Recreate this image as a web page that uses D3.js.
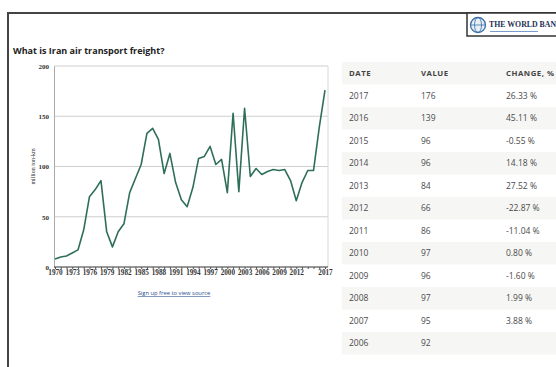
<!DOCTYPE html>
<html>
<head>
<meta charset="utf-8">
<script src="https://cdn.jsdelivr.net/npm/d3@7"></script>
<style>
  html, body { margin: 0; padding: 0; background: #fff; }
  svg { display: block; }
</style>
</head>
<body>
<svg id="chart" width="556" height="367"></svg>
<script>
// ---- data ----
const years = d3.range(1970, 2018);
const values = [8, 10, 11, 14, 17, 37, 70, 77, 86, 35,
                20, 35, 43, 74, 88, 102, 133, 138, 127, 93,
                113, 84, 67, 60, 79, 108, 110, 120, 102, 107,
                74, 153, 75, 158, 90, 98, 92, 95, 97, 96,
                97, 86, 66, 84, 96, 96, 139, 176];
const xTickLabels = [1970, 1973, 1976, 1979, 1982, 1985, 1988, 1991, 1994, 1997, 2000, 2003, 2006, 2009, 2012, 2017];
const yTicks = [0, 50, 100, 150, 200];

const tableHeaders = ["DATE", "VALUE", "CHANGE, %"];
const tableYears = [2017, 2016, 2015, 2014, 2013, 2012, 2011, 2010, 2009, 2008, 2007, 2006];
const tableValues = [176, 139, 96, 96, 84, 66, 86, 97, 96, 97, 95, 92];
const tableChanges = ["26.33 %", "45.11 %", "-0.55 %", "14.18 %", "27.52 %", "-22.87 %", "-11.04 %", "0.80 %", "-1.60 %", "1.99 %", "3.88 %", ""];

const svg = d3.select("#chart");

// ---- frame ----
svg.append("line").attr("x1", 8).attr("x2", 8).attr("y1", 12).attr("y2", 367)
  .attr("stroke", "#444").attr("stroke-width", 2);
svg.append("line").attr("x1", 7).attr("x2", 556).attr("y1", 13).attr("y2", 13)
  .attr("stroke", "#444").attr("stroke-width", 2);

// ---- logo ----
const logo = svg.append("g");
logo.append("rect").attr("x", 467).attr("y", 13).attr("width", 95).attr("height", 23)
  .attr("fill", "#fff").attr("stroke", "#333").attr("stroke-width", 1.5);
logo.append("circle").attr("cx", 478).attr("cy", 25).attr("r", 7.5)
  .attr("fill", "#e8eef6").attr("stroke", "#3a6fa8").attr("stroke-width", 1.3);
logo.append("ellipse").attr("cx", 478).attr("cy", 25).attr("rx", 3.5).attr("ry", 7.5)
  .attr("fill", "none").attr("stroke", "#3a6fa8").attr("stroke-width", 0.8);
logo.append("line").attr("x1", 470.5).attr("x2", 485.5).attr("y1", 25).attr("y2", 25)
  .attr("stroke", "#3a6fa8").attr("stroke-width", 0.8);
logo.append("text").attr("x", 489).attr("y", 27).text("THE WORLD BAN")
  .attr("font-family", "'Liberation Serif', serif").attr("font-weight", "bold")
  .attr("font-size", 7.8).attr("fill", "#1f2f55");
logo.append("line").attr("x1", 490).attr("x2", 538).attr("y1", 31.5).attr("y2", 31.5)
  .attr("stroke", "#7a9cc8").attr("stroke-width", 1.2);

// ---- title ----
svg.append("text").attr("x", 13).attr("y", 54)
  .text("What is Iran air transport freight?")
  .attr("font-family", "'Open Sans', sans-serif").attr("font-weight", "bold")
  .attr("font-size", 9).attr("fill", "#222");

// ---- chart ----
const x = d3.scaleLinear().domain([1970, 2017]).range([55, 325]);
const y = d3.scaleLinear().domain([0, 200]).range([267, 66]);
const plotL = 54, plotR = 328;

const g = svg.append("g");
g.selectAll(".grid").data(yTicks.filter(d => d > 0)).join("line")
  .attr("x1", plotL).attr("x2", plotR)
  .attr("y1", d => y(d)).attr("y2", d => y(d))
  .attr("stroke", "#cfcfcf").attr("stroke-width", 1);
g.append("line").attr("x1", plotR).attr("x2", plotR).attr("y1", y(200)).attr("y2", y(0))
  .attr("stroke", "#d8d8d8");

const yAxis = g.append("g").attr("transform", `translate(${plotL},0)`)
  .call(d3.axisLeft(y).tickValues(yTicks).tickSize(0).tickPadding(5));
yAxis.select(".domain").attr("stroke", "#aaa");
yAxis.selectAll("text").attr("font-family", "'Liberation Serif', serif").attr("font-weight", "bold")
  .attr("font-size", 7).attr("fill", "#333");

const labelSet = new Set(xTickLabels);
const xAxis = g.append("g").attr("transform", `translate(0,${y(0)})`)
  .call(d3.axisBottom(x).tickValues(years).tickSize(2).tickPadding(1)
    .tickFormat(d => labelSet.has(d) ? String(d) : ""));
xAxis.select(".domain").attr("stroke", "#333").attr("d", `M${plotL},0H${plotR}`);
xAxis.selectAll("line").attr("stroke", "#555");
xAxis.selectAll("text").attr("font-family", "'Liberation Serif', serif").attr("font-weight", "bold")
  .attr("font-size", 7.2).attr("fill", "#333");

svg.append("text").attr("transform", `translate(35,${y(100)}) rotate(-90)`)
  .attr("text-anchor", "middle").text("million ton-km")
  .attr("font-family", "'Liberation Serif', serif").attr("font-size", 6).attr("fill", "#333");

const line = d3.line().x((d, i) => x(years[i])).y(d => y(d));
g.append("path").datum(values).attr("d", line)
  .attr("fill", "none").attr("stroke", "#2f6f58").attr("stroke-width", 1.6)
  .attr("stroke-linejoin", "round");

svg.append("text").attr("x", 174).attr("y", 295).attr("text-anchor", "middle")
  .text("Sign up free to view source")
  .attr("font-family", "'Open Sans', sans-serif").attr("font-size", 5.8)
  .attr("fill", "#2a4d8f").attr("text-decoration", "underline");

// ---- table ----
const colX = [349, 421, 506];
const rowH = 22.5;
const headY = 62;
const tbl = svg.append("g");
const rows = [tableHeaders].concat(tableYears.map((yr, i) => [String(yr), String(tableValues[i]), tableChanges[i]]));
rows.forEach((r, i) => {
  const top = headY + i * rowH;
  if (i % 2 === 0) {
    tbl.append("rect").attr("x", 342).attr("y", top).attr("width", 214).attr("height", rowH)
      .attr("fill", "#f6f6f4");
  }
  r.forEach((t, j) => {
    tbl.append("text").attr("x", colX[j]).attr("y", top + rowH / 2 + 3)
      .text(t)
      .attr("font-family", "'Open Sans', sans-serif")
      .attr("font-size", i === 0 ? 7.8 : 8.5)
      .attr("font-weight", i === 0 ? "bold" : "normal")
      .attr("letter-spacing", i === 0 ? 0.5 : 0)
      .attr("fill", i === 0 ? "#444" : "#4a4a4a");
  });
});
</script>
</body>
</html>
